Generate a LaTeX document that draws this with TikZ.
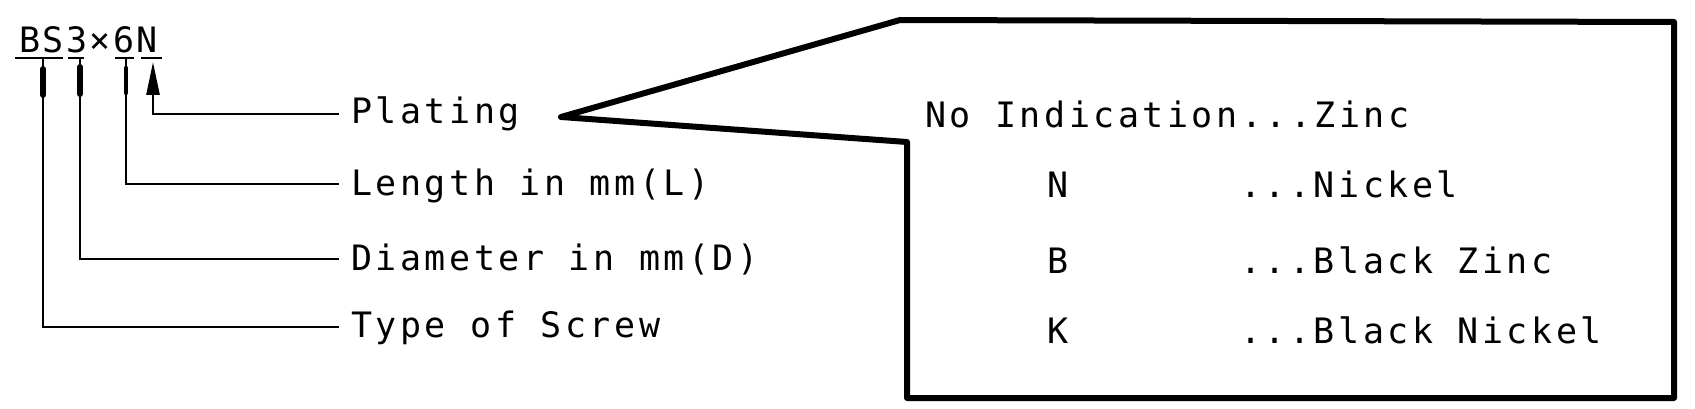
\documentclass[tikz,border=0pt]{standalone}
\usepackage{fontspec}
\usetikzlibrary{arrows.meta,calc}
\newfontfamily\dft[LetterSpace=10]{DejaVu Sans Mono}
\newfontfamily\dftcode[LetterSpace=7]{DejaVu Sans Mono}
\begin{document}
\begin{tikzpicture}[x=1pt,y=-1pt,
  lbl/.style={anchor=base west, inner sep=0pt, font={\dft\fontsize{35pt}{40pt}\selectfont}},
  codelbl/.style={anchor=base west, inner sep=0pt, font={\dftcode\fontsize{35pt}{40pt}\selectfont}},
  lead/.style={line width=2.6pt},
  ulin/.style={line width=2.4pt},
  spindle/.style={line width=6pt, line cap=round},
  boxline/.style={line width=6pt, line join=round}]
\useasboundingbox (0,0) rectangle (1695,409);

% code and labels
\node[codelbl] (code) at (19,53) {BS3×6N};
\node[lbl] (plat) at (351,124) {Plating};
\node[lbl] (len)  at (351,196) {Length in mm(L)};
\node[lbl] (dia)  at (351,270) {Diameter in mm(D)};
\node[lbl] (typ)  at (351,337) {Type of Screw};

% underlines
\draw[ulin] (15,58) -- (63,58);
\draw[ulin] (68,58) -- (84,58);
\draw[ulin] (115,58) -- (134,58);
\draw[ulin] (141,58) -- (162,58);

% leader start points and end points
\coordinate (uB) at (43,59);
\coordinate (u3) at (80,59);
\coordinate (u6) at (126,59);
\coordinate (uN) at (153,62);
\coordinate (ePlat) at (339,114);
\coordinate (eLen)  at (339,184);
\coordinate (eDia)  at (339,259);
\coordinate (eTyp)  at (339,327);

\draw[lead] (uB) |- (eTyp);
\draw[lead] (u3) |- (eDia);
\draw[lead] (u6) |- (eLen);
\draw[lead, {Triangle[length=33pt,width=13pt]}-] (uN) |- (ePlat);

\draw[spindle] ($(uB)+(0,10)$) -- ($(uB)+(0,36)$);
\draw[spindle] ($(u3)+(0,8)$) -- ($(u3)+(0,35)$);
\draw[spindle, line width=4.5pt] ($(u6)+(0,9)$) -- ($(u6)+(0,34)$);

% callout box
\coordinate (tip) at (561,117);
\coordinate (c1) at (900,20);
\coordinate (c2) at (1674,22);
\coordinate (c3) at (1674,398);
\coordinate (c4) at (907,398);
\coordinate (c5) at (907,142);
\draw[boxline] (tip) -- (c1) -- (c2) -- (c3) -- (c4) -- (c5) -- cycle;

% box text
\node[lbl] (r0)  at (925,128)  {No Indication...Zinc};
\node[lbl] (r1k) at (1047,197) {N};
\node[lbl] (r1v) at (1240,197) {...Nickel};
\node[lbl] (r2k) at (1047,273) {B};
\node[lbl] (r2v) at (1240,273) {...Black Zinc};
\node[lbl] (r3k) at (1047,343) {K};
\node[lbl] (r3v) at (1240,343) {...Black Nickel};
\end{tikzpicture}
\end{document}
